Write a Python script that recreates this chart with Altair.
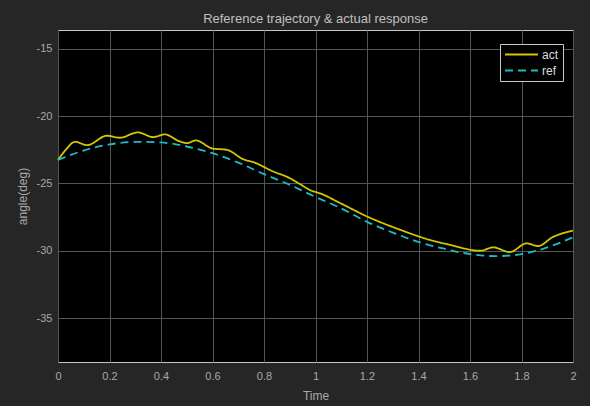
import altair as alt
import pandas as pd

# reference trajectory
ref_t = [0.0, 0.1, 0.2, 0.3, 0.4, 0.5, 0.6, 0.7, 0.8, 0.9, 1.0,
         1.1, 1.2, 1.3, 1.4, 1.5, 1.6, 1.7, 1.8, 1.9, 2.0]
ref_v = [-23.25, -22.55, -22.1, -21.9, -21.95, -22.25, -22.75, -23.45, -24.3, -25.1, -26.0,
         -26.85, -27.85, -28.65, -29.35, -29.85, -30.25, -30.4, -30.25, -29.75, -29.0]

# actual response
act_t = [0.0, 0.03, 0.066, 0.113, 0.19, 0.24, 0.31, 0.37, 0.415, 0.47, 0.5,
         0.535, 0.6, 0.656, 0.72, 0.757, 0.835, 0.9, 0.94, 0.98, 1.02,
         1.095, 1.2, 1.33, 1.445, 1.52, 1.64, 1.69, 1.755, 1.82, 1.865, 1.92, 2.0]
act_v = [-23.25, -22.5, -21.9, -22.15, -21.45, -21.6, -21.2, -21.55, -21.35, -21.85, -22.0,
         -21.8, -22.4, -22.5, -23.2, -23.4, -24.1, -24.6, -25.05, -25.5, -25.75,
         -26.45, -27.45, -28.45, -29.2, -29.55, -30.0, -29.75, -30.1, -29.45, -29.65, -29.0, -28.5]

x_ticks = [0, 0.2, 0.4, 0.6, 0.8, 1, 1.2, 1.4, 1.6, 1.8, 2]
y_ticks = [-35, -30, -25, -20, -15]
series = ["act", "ref"]
colors = ["#d2c800", "#1bbcc6"]

df = pd.concat([
    pd.DataFrame({"t": act_t, "v": act_v, "s": "act", "o": range(len(act_t))}),
    pd.DataFrame({"t": ref_t, "v": ref_v, "s": "ref", "o": range(len(ref_t))}),
])

FONT = "Liberation Sans"
LEG = dict(orient="none", legendX=442, legendY=14)

chart = alt.Chart(df).mark_line(interpolate="monotone", strokeWidth=1.8).encode(
    x=alt.X("t:Q", scale=alt.Scale(domain=[0, 2], nice=False, zero=False),
            axis=alt.Axis(values=x_ticks, format="~g", title="Time", grid=True,
                          ticks=False, tickSize=0, domain=False, labelPadding=8,
                          titlePadding=9, labelFlush=False)),
    y=alt.Y("v:Q", scale=alt.Scale(domain=[-38.27, -13.59], nice=False, zero=False),
            axis=alt.Axis(values=y_ticks, title="angle(deg)", grid=True,
                          labelExpr="'' + datum.value",
                          ticks=False, tickSize=0, domain=False, labelPadding=6,
                          titlePadding=7)),
    color=alt.Color("s:N", scale=alt.Scale(domain=series, range=colors), title=None,
                    legend=alt.Legend(**LEG)),
    strokeDash=alt.StrokeDash("s:N", scale=alt.Scale(domain=series, range=[[1, 0], [8, 5]]),
                              title=None, legend=alt.Legend(**LEG)),
    order="o:Q",
).properties(
    width=515, height=332,
    title=alt.TitleParams("Reference trajectory & actual response", fontSize=13,
                          color="#c0c0c0", font=FONT, fontWeight="normal", offset=4,
                          anchor="middle"),
    autosize=alt.AutoSizeParams(type="none"),
    padding={"left": 58, "top": 30, "right": 17, "bottom": 44},
    background="#262626",
).configure_view(
    fill="black", stroke="#c8c8c8", strokeWidth=1,
).configure_axis(
    gridColor="#555555", gridWidth=1, gridOpacity=1,
    labelColor="#a8a8a8", labelFont=FONT, labelFontSize=11,
    titleColor="#a8a8a8", titleFont=FONT, titleFontSize=12, titleFontWeight="normal",
).configure_legend(
    fillColor="black", strokeColor="#c8c8c8", padding=4,
    symbolType="M-3,0H3", symbolSize=121, symbolStrokeWidth=2, symbolOffset=11,
    labelColor="#dcdcdc", labelFont=FONT, labelFontSize=12, labelOffset=14,
    rowPadding=3, cornerRadius=0,
)

chart.save("out.html", embed_options={"renderer": "svg", "actions": False})
